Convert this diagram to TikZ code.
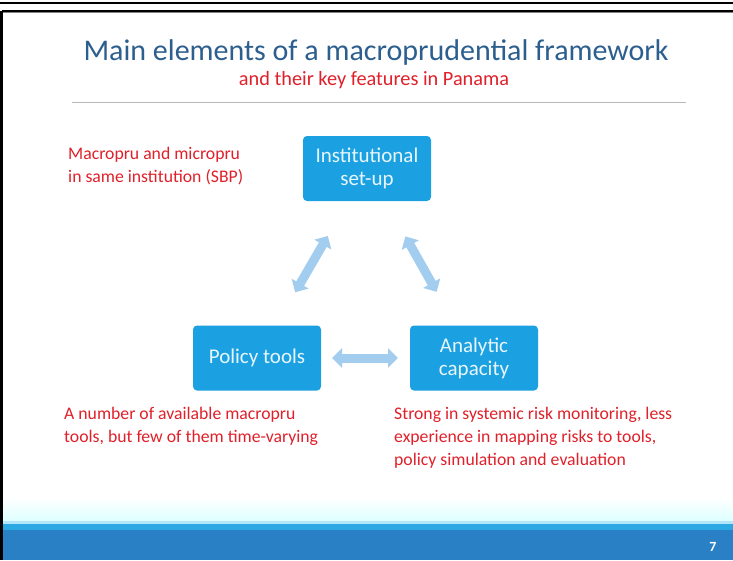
\documentclass[tikz,border=0pt]{standalone}
\usepackage{fontspec}
\setmainfont{Carlito}
\usetikzlibrary{arrows.meta}
\definecolor{boxblue}{HTML}{1BA1E2}
\definecolor{arrowblue}{HTML}{A3CDEE}
\definecolor{titleblue}{HTML}{2C5F8E}
\definecolor{redtext}{HTML}{E0202A}
\definecolor{barblue}{HTML}{2A80C5}
\definecolor{barlight}{HTML}{2CA8E2}
\begin{document}
\begin{tikzpicture}[x=1pt,y=-1pt,
  elem/.style={fill=boxblue, rounded corners=4pt, minimum width=128pt, minimum height=65pt, text=white!90!boxblue, align=center, font=\fontsize{21}{23}\selectfont},
  note/.style={text=redtext, align=left, anchor=base west, inner sep=0pt, font=\fontsize{17.7}{23}\selectfont},
  dbl/.style={draw=arrowblue, line width=9pt, {Triangle[width=19pt,length=10pt]}-{Triangle[width=19pt,length=10pt]}}
]
\useasboundingbox (0,0) rectangle (733,560);
\fill[white] (0,0) rectangle (733,560);
% frames
\draw[line width=2.5pt] (0,3) -- (733,3);
\draw[gray, line width=1pt] (2,12.5) -- (733,12.5);
\draw[line width=2pt] (2,11) -- (733,11);
\draw[line width=3pt] (1.5,11) -- (1.5,560);
% bottom bar
\shade[top color=white, bottom color=cyan!14] (3,498) rectangle (733,522);
\fill[cyan!30] (3,521) rectangle (733,523.5);
\fill[barlight] (3,523.5) rectangle (733,530);
\fill[barblue] (3,530) rectangle (733,560);
\node[text=white, font=\bfseries\fontsize{14}{16}\selectfont] (pg) at (713,547) {7};
% title
\node[text=titleblue, font=\fontsize{30}{34}\selectfont] (title) at (376,52) {Main elements of a macroprudential framework};
\node[text=redtext, font=\fontsize{20.3}{24}\selectfont] (sub) at (374,80) {and their key features in Panama};
\coordinate (ll) at (72,102);
\coordinate (lr) at (686,102);
\draw[gray!55, line width=0.8pt] (ll) -- (lr);
% boxes
\node[elem] (inst) at (367,168.5) {Institutional\\set-up};
\node[elem] (pol) at (257,358) {Policy tools};
\node[elem] (ana) at (474,358) {Analytic\\capacity};
% arrows
\draw[dbl, shorten <=76pt, shorten >=78pt] (pol.center) -- (inst.center);
\draw[dbl, shorten <=78pt, shorten >=76pt] (inst.center) -- (ana.center);
\draw[dbl, shorten <=75pt, shorten >=76pt] (pol.center) -- (ana.center);
% notes (base = baseline of last line)
\node[note] (n1) at (68,182) {Macropru and micropru\\in same institution (SBP)};
\node[note] (n2) at (64,442) {A number of available macropru\\tools, but few of them time-varying};
\node[note] (n3) at (394,465) {Strong in systemic risk monitoring, less\\experience in mapping risks to tools,\\policy simulation and evaluation};
\end{tikzpicture}
\end{document}
